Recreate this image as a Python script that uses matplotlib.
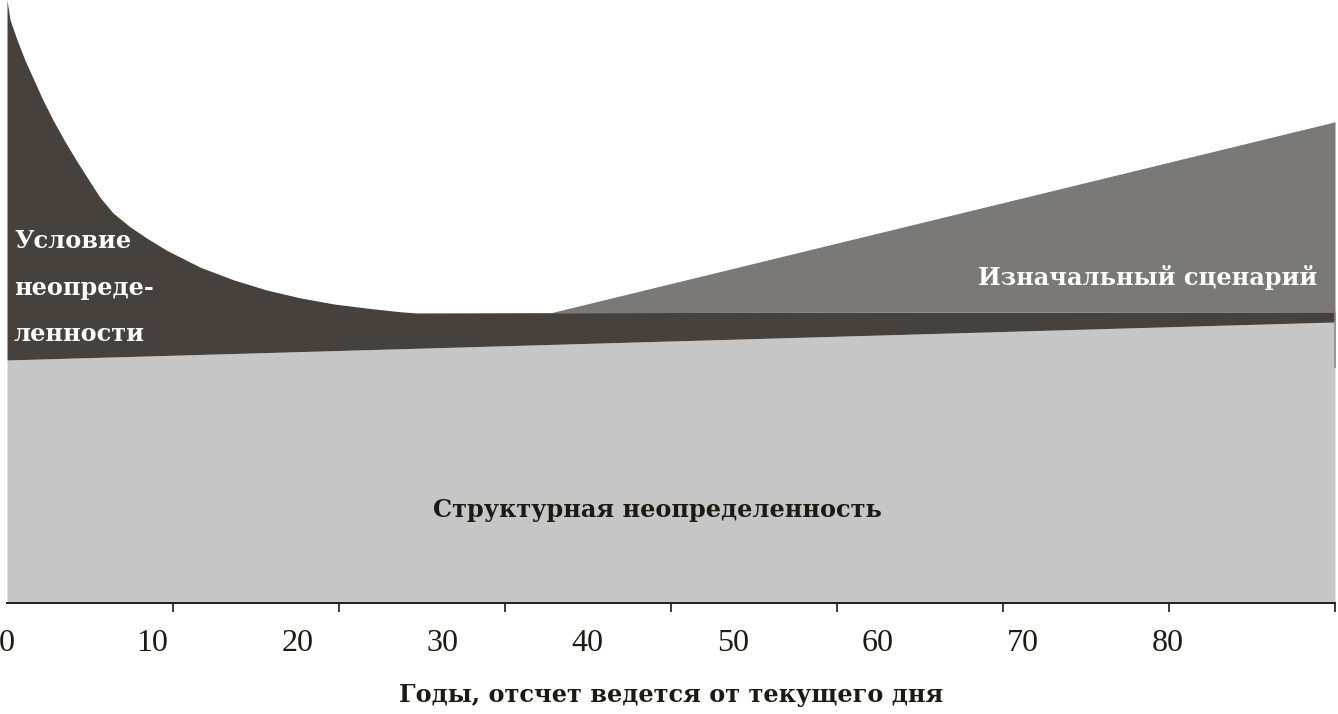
import matplotlib
matplotlib.use("Agg")
import matplotlib.pyplot as plt
import numpy as np

# ---- data (years from today, share of total uncertainty, arbitrary units 0..100) ----
curve_years = [0, 0.21, 0.69, 1.24, 1.86, 2.48, 3.17, 3.93, 4.75, 5.65, 6.40, 7.30,
               8.47, 9.64, 11.0, 13.3, 15.6, 17.9, 20.2, 22.5, 24.8, 27.1, 28.2,
               37.5, 91.5]
model_top = [100, 96.7, 93.4, 90.0, 86.7, 83.4, 80.1, 76.8, 73.5, 70.1, 67.3, 64.7,
             62.4, 60.5, 58.5, 55.7, 53.6, 51.9, 50.6, 49.6, 48.9, 48.3, 48.1,
             48.15, 48.3]
structural_years = [0, 91.5]
structural_top = [40.3, 46.6]
scenario_years = [37.5, 91.5]
scenario_bottom = [48.15, 48.3]
scenario_top = [48.15, 79.8]

tick_values = [0, 10, 20, 30, 40, 50, 60, 70, 80]
tick_labels = ["0", "10", "20", "30", "40", "50", "60", "70", "80"]

label_model = ["Условие", "неопреде-", "ленности"]
label_scenario = "Изначальный сценарий"
label_structural = "Структурная неопределенность"
xlabel = "Годы, отсчет ведется от текущего дня"

# ---- colours ----
c_light = "#c6c6c6"
c_dark = "#46413d"
c_mid = "#7b7977"
c_text = "#1c1a12"

W, H = 1338, 714
fig = plt.figure(figsize=(W / 100, H / 100), dpi=100)
ax = fig.add_axes([7 / W, (H - 603) / H, (1335 - 7) / W, 603 / H])

cy = np.array(curve_years)
struct_interp = np.interp(cy, structural_years, structural_top)

ax.fill_between(structural_years, 0, structural_top, color=c_light, lw=0)
ax.fill_between(cy, struct_interp, model_top, color=c_dark, lw=0)
ax.fill_between(scenario_years, scenario_bottom, scenario_top, color=c_mid, lw=0)
ax.plot([91.5, 91.5], [39.1, 48.3], color="#8a8a8a", lw=1.2, clip_on=False)

ax.set_xlim(0, 91.5)
ax.set_ylim(0, 100)

for s in ["top", "left", "right"]:
    ax.spines[s].set_visible(False)
ax.spines["bottom"].set_color("#222018")
ax.spines["bottom"].set_linewidth(1.4)
ax.set_yticks([])

ax.set_xticks(tick_values)
ax.set_xticklabels(tick_labels, fontfamily="Liberation Serif", fontsize=23, color=c_text)
ax.tick_params(axis="x", which="major", length=0, pad=19)
ax.set_xticks(np.linspace(0, 91.5, 9), minor=True)
ax.tick_params(axis="x", which="minor", length=6.5, width=1.4, color="#3a3a3a")

serif_bold = dict(fontfamily="DejaVu Serif", fontweight="bold", fontsize=17.3)

ys = [58.9, 51.1, 43.4]
for t, y in zip(label_model, ys):
    ax.text(0.48, y, t, color="white", ha="left", va="baseline", **serif_bold)

ax.text(90.3, 52.7, label_scenario, color="white", ha="right",
        va="baseline", **serif_bold)
ax.text(44.8, 14.3, label_structural, color=c_text, ha="center",
        va="baseline", **serif_bold)

fig.text(671 / W, (H - 695) / H, xlabel, color=c_text, ha="center",
         va="center", **serif_bold)

fig.savefig("out.png", dpi=100)
